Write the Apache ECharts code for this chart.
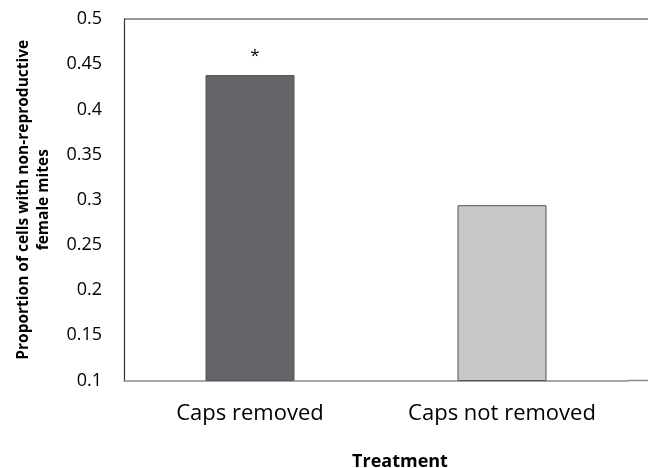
<!DOCTYPE html>
<html>
<head>
<meta charset="utf-8">
<script src="https://cdn.jsdelivr.net/npm/echarts@6/dist/echarts.min.js"></script>
<style>
  html, body { margin: 0; padding: 0; background: #ffffff; }
  #chart { width: 648px; height: 468px; }
</style>
</head>
<body>
<div id="chart"></div>
<script>
// Treatment groups and the share of brood cells holding non-reproductive female mites
const categories = ['Caps removed', 'Caps not removed'];
const proportions = [0.438, 0.294];
const barColors = ['#636468', '#c6c7c9'];
const significance = ['*', ''];
const yTicks = { min: 0.1, max: 0.5, step: 0.05 };

const FONT = '"Open Sans", "Noto Sans", sans-serif';

const chart = echarts.init(document.getElementById('chart'), null, { renderer: 'canvas' });

const gridLeft = 124, gridTop = 19, gridWidth = 504, gridBottom = 87.5;

chart.setOption({
  animation: false,
  backgroundColor: '#ffffff',
  title: {
    text: 'Treatment',
    left: 395,
    top: 448,
    textAlign: 'center',
    textStyle: { fontFamily: FONT, fontWeight: 'bold', fontSize: 18, color: '#000000' }
  },
  grid: {
    left: gridLeft, top: gridTop, width: gridWidth, bottom: gridBottom,
    outerBoundsMode: 'none'
  },
  xAxis: {
    type: 'category',
    data: categories,
    axisLine: { lineStyle: { color: '#8a8a8a', width: 1.5 } },
    axisTick: { show: false },
    axisLabel: { fontFamily: FONT, fontSize: 22, color: '#000000', margin: 22 }
  },
  yAxis: {
    type: 'value',
    min: yTicks.min,
    max: yTicks.max,
    interval: yTicks.step,
    name: 'Proportion of cells with non-reproductive\nfemale mites',
    nameLocation: 'middle',
    nameGap: 70,
    nameTextStyle: { fontFamily: FONT, fontWeight: 'bold', fontSize: 15.5, color: '#000000', lineHeight: 20 },
    axisLine: { show: true, lineStyle: { color: '#333333', width: 1.2 } },
    axisTick: { show: false },
    minorTick: { show: false },
    splitLine: { show: false },
    axisLabel: {
      fontFamily: FONT, fontSize: 18, color: '#000000', margin: 22,
      formatter: v => String(Math.round(v * 100) / 100)
    }
  },
  graphic: [
    // plot frame: top edge and the run-out of the baseline to the right edge
    { type: 'line', shape: { x1: gridLeft, y1: gridTop, x2: 648, y2: gridTop },
      style: { stroke: '#333333', lineWidth: 1.2 }, silent: true },
    { type: 'line', shape: { x1: gridLeft + gridWidth, y1: 468 - gridBottom, x2: 648, y2: 468 - gridBottom },
      style: { stroke: '#8a8a8a', lineWidth: 1.5 }, silent: true }
  ],
  series: [{
    type: 'bar',
    barWidth: 89,
    data: proportions.map((v, i) => ({
      value: v,
      itemStyle: { color: barColors[i], borderColor: '#555555', borderWidth: 1 },
      label: {
        show: significance[i] !== '',
        position: 'top',
        distance: 10,
        offset: [5, 0],
        formatter: significance[i],
        fontFamily: FONT, fontSize: 17, color: '#000000'
      }
    }))
  }]
});
</script>
</body>
</html>
